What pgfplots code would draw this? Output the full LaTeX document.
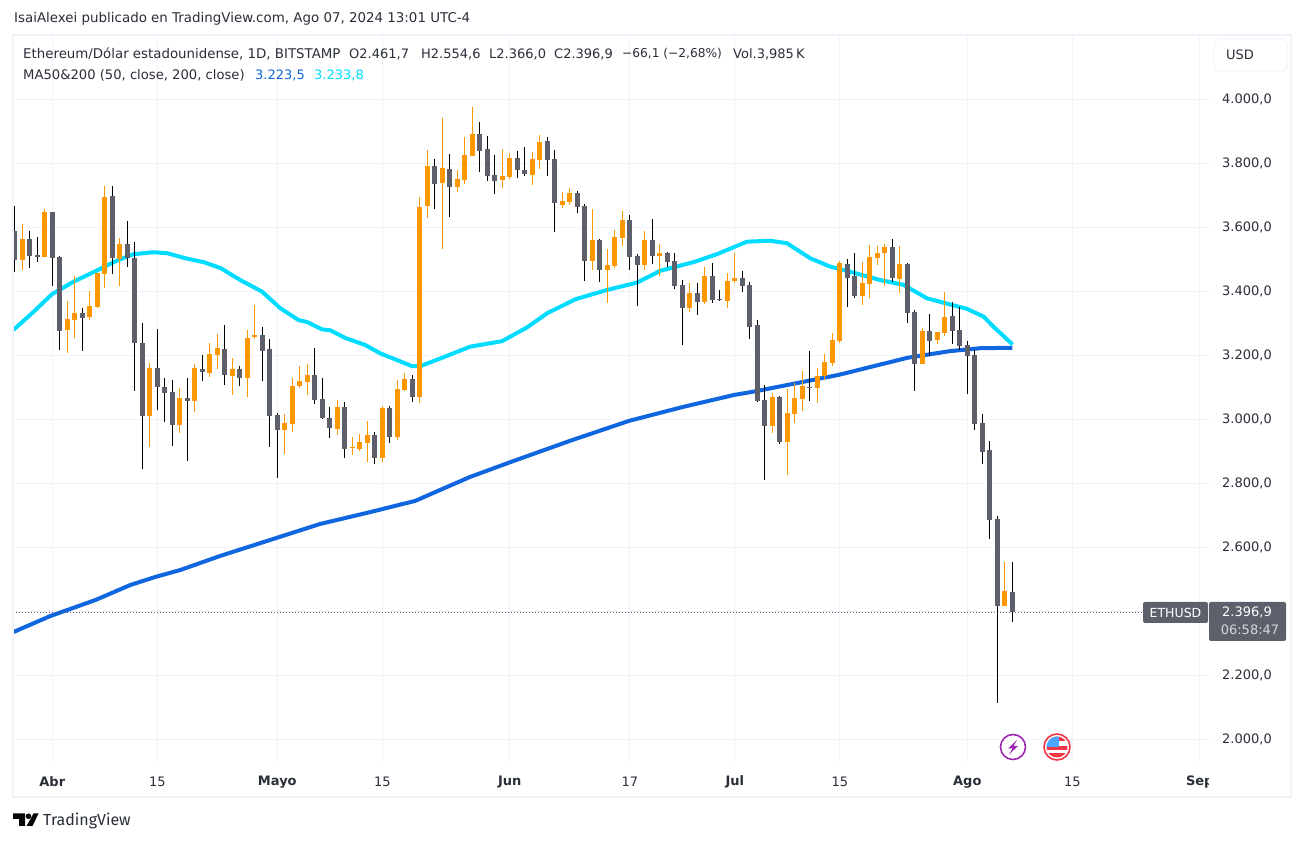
\documentclass[border=0pt]{standalone}
\usepackage{fontspec}
\setmainfont{DejaVu Sans}
\newfontfamily\logofont{Fira Sans}
\usepackage{pgfplots}
\usepackage{pgfplotstable}
\pgfplotsset{compat=1.18}
\definecolor{tvtext}{HTML}{2A2E39}
\definecolor{tvgrid}{HTML}{F0F3FA}
\definecolor{tvorange}{HTML}{FF9800}
\definecolor{tvgray}{HTML}{5D606B}
\definecolor{tvblue}{HTML}{1066DE}
\definecolor{tvcyan}{HTML}{00DCFF}
\definecolor{tvpurple}{HTML}{9C27B0}
\definecolor{tvred}{HTML}{F23645}
% day (0 = 1 April 2024), high, body top, body bottom, low
\pgfplotstableread{
d h t b l
-4 3610 3563 3498 3466
-1 3657 3648 3507 3507
2 3370 3313 3279 3207
3 3448 3332 3310 3254
5 3401 3354 3320 3310
6 3457 3457 3351 3348
7 3729 3695 3454 3410
9 3566 3548 3501 3416
13 3176 3160 3010 2913
17 3098 3066 2982 2957
19 3173 3160 3057 3023
21 3238 3204 3145 3132
22 3266 3223 3201 3157
24 3192 3157 3135 3076
26 3279 3254 3129 3070
27 3357 3263 3257 3251
31 3016 2988 2967 2892
32 3129 3104 2985 2960
33 3166 3120 3104 3098
34 3173 3138 3116 3076
38 3060 3038 2970 2951
40 2945 2913 2910 2888
41 2954 2929 2907 2901
42 2995 2951 2926 2866
44 3041 3035 2879 2866
46 3123 3095 2945 2935
47 3145 3126 3091 3088
49 3694 3663 3070 3051
50 3841 3791 3666 3629
52 3941 3785 3738 3532
54 3779 3751 3726 3710
55 3882 3826 3748 3735
56 3976 3891 3823 3823
60 3845 3760 3748 3723
61 3832 3816 3757 3751
64 3835 3813 3763 3732
65 3888 3866 3810 3782
68 3710 3682 3670 3660
69 3723 3707 3679 3670
72 3657 3560 3495 3466
74 3532 3482 3466 3363
75 3591 3570 3479 3473
76 3651 3623 3566 3541
79 3588 3560 3482 3466
81 3548 3520 3510 3448
85 3426 3395 3348 3335
87 3476 3448 3366 3360
90 3457 3432 3370 3348
91 3520 3441 3432 3426
96 3082 3070 2979 2957
98 3095 3020 2929 2826
99 3113 3066 3016 2989
100 3151 3104 3063 3026
102 3160 3135 3098 3051
103 3204 3179 3135 3123
104 3270 3248 3176 3166
105 3495 3488 3245 3238
108 3491 3426 3385 3357
109 3545 3507 3423 3379
110 3541 3520 3504 3482
111 3548 3538 3520 3416
113 3541 3485 3438 3395
116 3285 3276 3173 3173
118 3273 3273 3248 3235
119 3398 3320 3270 3260
127 2554 2463 2416 2416
}\tabup
\pgfplotstableread{
d h t b l
-5 3666 3588 3498 3460
-3 3588 3563 3510 3473
-2 3570 3513 3507 3491
0 3648 3648 3504 3416
1 3510 3507 3276 3216
4 3348 3332 3316 3213
8 3729 3698 3504 3454
10 3620 3548 3504 3476
11 3554 3504 3238 3088
12 3300 3238 3010 2845
14 3282 3160 3101 3029
15 3129 3101 3082 2991
16 3123 3085 2982 2916
18 3129 3066 3057 2870
20 3201 3157 3148 3120
23 3295 3220 3138 3107
25 3166 3157 3129 3104
28 3288 3263 3213 3120
29 3251 3220 3010 2913
30 3020 3013 2967 2817
35 3223 3138 3060 3048
36 3129 3063 3004 3001
37 3038 3004 2973 2942
39 3054 3038 2907 2879
43 2960 2951 2879 2860
45 3041 3035 2945 2926
48 3138 3126 3070 3054
51 3813 3791 3735 3657
53 3829 3782 3726 3632
57 3929 3891 3838 3773
58 3885 3845 3760 3745
59 3826 3763 3745 3704
62 3838 3816 3779 3754
63 3851 3779 3766 3760
66 3882 3870 3810 3760
67 3841 3813 3676 3585
70 3713 3707 3663 3645
71 3673 3666 3495 3432
73 3563 3560 3466 3429
77 3638 3623 3507 3466
78 3516 3510 3482 3354
80 3626 3560 3510 3485
82 3523 3520 3491 3476
83 3520 3495 3416 3407
84 3435 3420 3348 3232
86 3426 3395 3366 3326
88 3488 3448 3373 3363
89 3404 3376 3373 3370
92 3463 3441 3416 3398
93 3429 3420 3288 3251
94 3310 3295 3057 3054
95 3107 3060 2979 2810
97 3073 3070 2929 2923
101 3213 3101 3098 3057
106 3501 3485 3441 3351
107 3520 3448 3385 3379
112 3563 3538 3441 3429
114 3488 3485 3332 3301
115 3341 3335 3173 3088
117 3329 3276 3245 3198
120 3366 3323 3276 3235
121 3351 3279 3229 3216
122 3245 3232 3198 3079
123 3216 3201 2985 2966
124 3016 2988 2898 2860
125 2932 2904 2685 2626
126 2698 2688 2416 2113
128 2554.6 2461.7 2396.9 2366
}\tabdown
\pgfplotstableread{
d v
-5.2 2335
-0.27 2385
5.73 2435
10.4 2482
13.7 2507
17.07 2529
22.4 2573
27.73 2613
35.73 2673
42.4 2710
48.4 2745
51.7 2779
55.73 2820
61.07 2866
69.07 2933
76.9 2995
84 3038
90.9 3076
93.9 3088
98.4 3109
104.9 3139
114 3192
119.7 3213
123.7 3222
128 3223.5
}\tabblue
\pgfplotstableread{
d v
-5.2 3279
-2.49 3336
-0.04 3391
2.84 3430
5.51 3460
8.63 3496
10.84 3516
13.51 3522
15.29 3519
17.96 3502
20.17 3491
22.4 3473
25.07 3435
27.96 3399
30.4 3347
32.84 3310
33.96 3304
35.96 3281
37.07 3278
39.07 3254
41.73 3232
43.73 3206
45.96 3185
47.96 3166
49.07 3166
52.17 3194
55.73 3227
59.96 3244
63.29 3287
65.96 3331
69.73 3375
73.96 3404
77.96 3427
81.07 3464
85.5 3491
88.63 3516
92.63 3555
95.73 3558
97.96 3550
101.07 3503
103.73 3477
106.4 3461
110.4 3435
113.5 3420
116.63 3378
120.17 3356
121.96 3345
124.17 3321
125.5 3289
128.04 3233.8
}\tabcyan
\begin{document}
\begin{tikzpicture}[x=1pt,y=1pt]
\useasboundingbox (0,0) rectangle (1304,842);
\fill[white] (0,0) rectangle (1304,842);
\begin{axis}[
  at={(13.3pt,80pt)}, anchor=south west,
  width=1195.7pt, height=727pt, scale only axis,
  xmin=-5.2, xmax=154.23, ymin=1929, ymax=4200.9,
  axis line style={draw=none},
  major tick length=0pt,
  grid=major, grid style={tvgrid, line width=0.9pt},
  xtick={0,14,30,44,61,77,91,105,122,136,153},
  xticklabels={{\bfseries Abr},15,{\bfseries Mayo},15,{\bfseries Jun},17,{\bfseries Jul},15,{\bfseries Ago},15,{\bfseries Sep}},
  ytick={2000,2200,2400,2600,2800,3000,3200,3400,3600,3800,4000},
  yticklabels={{2.000,0},{2.200,0},{},{2.600,0},{2.800,0},{3.000,0},{3.200,0},{3.400,0},{3.600,0},{3.800,0},{4.000,0}},
  yticklabel pos=right,
  ticklabel style={font=\fontsize{13}{16}\selectfont, text=tvtext},
  yticklabel style={anchor=east, xshift=63pt, inner sep=0pt},
  xticklabel style={anchor=center, yshift=-20pt, inner sep=0pt},
]
\addplot[tvblue, line width=4pt, line join=round, forget plot] table[x=d,y=v]{\tabblue};
\addplot[tvcyan, line width=4pt, line join=round, forget plot] table[x=d,y=v]{\tabcyan};
\addplot[tvgray, line width=1pt, dash pattern=on 1pt off 2pt, forget plot] coordinates {(-5.2,2396.9) (154.23,2396.9)};
% wicks
\addplot[draw=none, forget plot, error bars/.cd, y dir=both, y explicit, error mark=none,
  error bar style={tvorange, line width=1pt}]
  table[x=d, y=t, y error plus expr=\thisrow{h}-\thisrow{t}, y error minus expr=\thisrow{t}-\thisrow{l}]{\tabup};
\addplot[draw=none, forget plot, error bars/.cd, y dir=both, y explicit, error mark=none,
  error bar style={black, line width=1pt}]
  table[x=d, y=t, y error plus expr=\thisrow{h}-\thisrow{t}, y error minus expr=\thisrow{t}-\thisrow{l}]{\tabdown};
% bodies
\addplot[draw=none, forget plot, error bars/.cd, y dir=minus, y explicit, error mark=none,
  error bar style={tvorange, line width=5pt}]
  table[x=d, y=t, y error minus expr=\thisrow{t}-\thisrow{b}]{\tabup};
\addplot[draw=none, forget plot, error bars/.cd, y dir=minus, y explicit, error mark=none,
  error bar style={tvgray, line width=5pt}]
  table[x=d, y=t, y error minus expr=\thisrow{t}-\thisrow{b}]{\tabdown};
\end{axis}
\begin{scope}[shift={(0,842pt)},x=1pt,y=-1pt]
  % clip of the Sep label and frame
  \fill[white] (1209,768) rectangle (1288,794);
  \draw[tvgrid, line width=2pt] (13,35) rectangle (1291,797);
  % USD button
  \draw[tvgrid, line width=1pt, fill=white, rounded corners=5pt] (1214,39) rectangle (1287,71);
  \node[anchor=west, inner sep=0pt, text=tvtext, font=\fontsize{13}{16}\selectfont] at (1226,55) {USD};
  % header
  \node[anchor=west, inner sep=0pt, text=tvtext, font=\fontsize{13.4}{16}\selectfont] at (14,19) {IsaiAlexei publicado en TradingView.com, Ago 07, 2024 13:01 UTC-4};
  \begin{scope}[every node/.style={anchor=west, inner sep=0pt, text=tvtext, font=\fontsize{13}{16}\selectfont}]
    \node[font=\fontsize{13.35}{16}\selectfont] at (23,54) {Ethereum/Dólar estadounidense, 1D, BITSTAMP};
    \node at (349,54) {O2.461,7};
    \node at (421,54) {H2.554,6};
    \node at (489,54) {L2.366,0};
    \node at (554,54) {C2.396,9};
    \node[font=\fontsize{12.2}{16}\selectfont] at (622,54) {−66,1 (−2,68\%)};
    \node at (733,54) {Vol.3,985\,K};
    \node[font=\fontsize{13.15}{16}\selectfont] at (23,75) {MA50\&200 (50, close, 200, close)};
    \node[text=tvblue] at (255,75) {3.223,5};
    \node[text=tvcyan] at (314,75) {3.233,8};
  \end{scope}
  % price tags
  \fill[tvgray, rounded corners=2pt] (1143,602) rectangle (1208,623);
  \fill[tvgray, rounded corners=2pt] (1209,602) rectangle (1286,641);
  \node[text=white, inner sep=0pt, font=\fontsize{12.5}{16}\selectfont] at (1175.5,612.5) {ETHUSD};
  \node[text=white, inner sep=0pt, font=\fontsize{13}{16}\selectfont] at (1247,612.5) {2.396,9};
  \node[text=white!75!tvgray, inner sep=0pt, font=\fontsize{13}{16}\selectfont] at (1250,630) {06:58:47};
  % event icons
  \draw[tvpurple, line width=1.6pt, fill=white] (1013,747) circle (12.5);
  \fill[tvpurple] (1017,740) -- (1008,748.5) -- (1012.5,748.5) -- (1009,754.5) -- (1018,746) -- (1013.5,746) -- cycle;
  \draw[tvred, line width=1.6pt, fill=white] (1057,747) circle (13);
  \begin{scope}
    \clip (1057,747) circle (10.5);
    \fill[tvred] (1046,736) rectangle (1068,741);
    \fill[tvred] (1046,746) rectangle (1068,750);
    \fill[tvred] (1046,753.5) rectangle (1068,758);
    \fill[blue!50!cyan!70!white] (1046,736) rectangle (1059,747.5);
  \end{scope}
  % logo
  \fill[black!85!tvtext] (13,813.5) -- (25,813.5) -- (25,826) -- (19,826) -- (19,819) -- (13,819) -- cycle;
  \fill[black!85!tvtext] (28.5,816.3) circle (2.8);
  \fill[black!85!tvtext] (33.5,813.5) -- (38.5,813.5) -- (32.5,826) -- (26.5,826) -- cycle;
  \node[anchor=west, inner sep=0pt, text=tvtext, font=\logofont\fontsize{16}{18}\selectfont] at (43,820.5) {TradingView};
\end{scope}
\end{tikzpicture}
\end{document}
